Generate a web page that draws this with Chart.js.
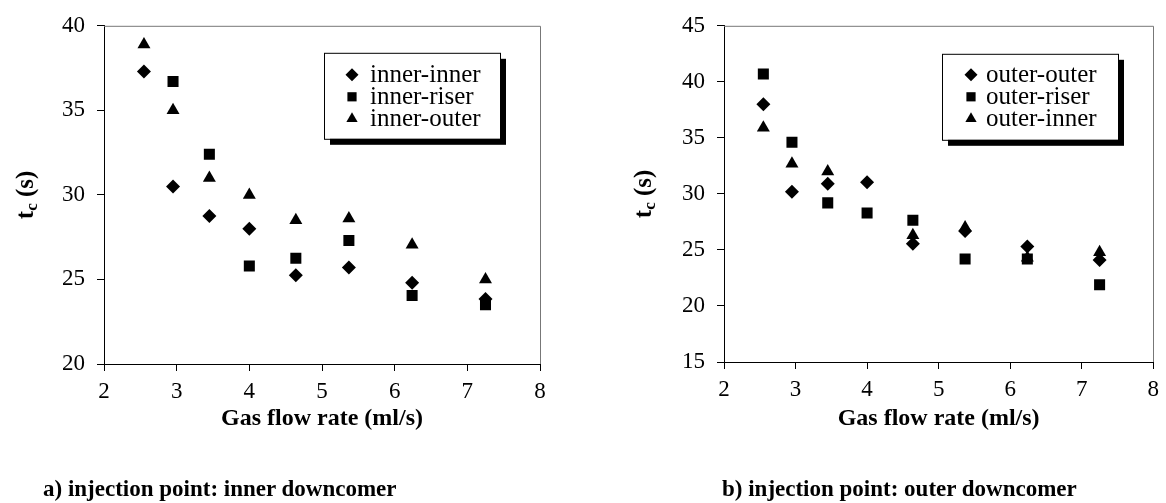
<!DOCTYPE html>
<html>
<head>
<title>Circulation time vs gas flow rate</title>
<script src="https://cdn.jsdelivr.net/npm/chart.js"></script>
<style>
    body {
        margin: 0;
        background: white;
        width: 1166px;
        height: 503px;
        overflow: hidden;
        position: relative;
        font-family: "Liberation Serif", "Times New Roman", serif;
    }
    .panel {
        position: absolute;
        top: 0;
        width: 583px;
        height: 503px;
    }
    .caption {
        position: absolute;
        top: 475px;
        font-weight: bold;
        font-size: 23px;
        line-height: 28px;
        white-space: nowrap;
    }
</style>
</head>
<body>
<div class="panel" style="left:0"><canvas id="chartA"></canvas></div>
<div class="panel" style="left:583px"><canvas id="chartB"></canvas></div>
<div class="caption" style="left:43px">a) injection point: inner downcomer</div>
<div class="caption" style="left:722px">b) injection point: outer downcomer</div>

<script>
    // gas flow rate (ml/s) – same set of runs for both injection points
    const flowRate = [2.55, 2.95, 3.45, 4.0, 4.64, 5.37, 6.24, 7.25];

    // a) injection point: inner downcomer, circulation time tc (s)
    const innerInner = [37.3, 30.5, 28.75, 28.0, 25.25, 25.7, 24.8, 23.85];
    const innerRiser = [null, 36.7, 32.4, 25.8, 26.25, 27.3, 24.05, 23.5];
    const innerOuter = [38.9, 35.0, 31.0, 30.0, 28.5, 28.6, 27.05, 25.0];

    // b) injection point: outer downcomer
    const outerOuter = [38.0, 30.2, 30.9, 31.05, 25.55, 26.7, 25.3, 24.1];
    const outerRiser = [40.7, 34.6, 29.2, 28.3, 27.65, 24.2, 24.2, 21.9];
    const outerInner = [35.9, 32.7, 32.0, null, 26.3, 27.0, 24.3, 24.8];

    const xTicks = [2, 3, 4, 5, 6, 7, 8];
    const yTicksA = [20, 25, 30, 35, 40];
    const yTicksB = [15, 20, 25, 30, 35, 40, 45];

    const FONT = '"Liberation Serif", "Times New Roman", serif';

    function points(ys) {
        return flowRate.map((x, i) => ({ x: x, y: ys[i] })).filter(p => p.y !== null);
    }

    function series(label, ys, style, r) {
        return {
            label: label,
            data: points(ys),
            pointStyle: style,
            pointRadius: r,
            pointHoverRadius: r,
            pointBackgroundColor: '#000',
            pointBorderColor: '#000',
            pointBorderWidth: 0,
            showLine: false
        };
    }

    function markDot(ctx, style, r, x, y) {
        if (Chart.helpers && Chart.helpers.drawPoint) {
            Chart.helpers.drawPoint(ctx, { pointStyle: style, radius: r, rotation: 0, borderWidth: 0 }, x, y);
        }
    }

    // frame, axis titles and the shadowed legend box
    const decor = {
        id: 'decor',
        beforeDatasetsDraw(chart, args, opts) {
            const a = chart.chartArea, ctx = chart.ctx;
            ctx.save();
            ctx.strokeStyle = '#777';
            ctx.lineWidth = 1;
            ctx.beginPath();
            ctx.moveTo(a.left, a.top + 0.5);
            ctx.lineTo(Math.round(a.right) + 0.5, a.top + 0.5);
            ctx.lineTo(Math.round(a.right) + 0.5, a.bottom);
            ctx.stroke();
            ctx.restore();
        },
        afterDraw(chart, args, opts) {
            const a = chart.chartArea, ctx = chart.ctx;
            ctx.save();
            ctx.fillStyle = '#000';

            // x title
            ctx.font = 'bold 24px ' + FONT;
            ctx.textAlign = 'center';
            ctx.textBaseline = 'middle';
            ctx.fillText('Gas flow rate (ml/s)', (a.left + a.right) / 2, opts.xTitleY);

            // y title: t with subscript c
            ctx.translate(opts.yTitleX, (a.top + a.bottom) / 2);
            ctx.rotate(-Math.PI / 2);
            const big = 'bold 25px ' + FONT, small = 'bold 17px ' + FONT;
            ctx.font = big;
            const wT = ctx.measureText('t').width;
            const wS = ctx.measureText(' (s)').width;
            ctx.font = small;
            const wC = ctx.measureText('c').width;
            let x0 = -(wT + wC + wS) / 2;
            ctx.textAlign = 'left';
            ctx.textBaseline = 'alphabetic';
            ctx.font = big;
            ctx.fillText('t', x0, 8);
            ctx.font = small;
            ctx.fillText('c', x0 + wT, 12);
            ctx.font = big;
            ctx.fillText(' (s)', x0 + wT + wC, 8);
            ctx.restore();

            // legend box with drop shadow
            const bx = a.left + opts.legend.dx, by = a.top + opts.legend.dy;
            const w = opts.legend.w, h = opts.legend.h;
            ctx.save();
            ctx.fillStyle = '#000';
            ctx.fillRect(bx + 6, by + 6, w, h);
            ctx.fillStyle = '#fff';
            ctx.fillRect(bx, by, w, h);
            ctx.strokeStyle = '#000';
            ctx.lineWidth = 1;
            ctx.strokeRect(bx + 0.5, by + 0.5, w, h);
            ctx.font = '25px ' + FONT;
            ctx.textAlign = 'left';
            ctx.textBaseline = 'middle';
            chart.data.datasets.forEach((ds, i) => {
                const ry = by + opts.legend.row0 + i * 22;
                ctx.fillStyle = '#000';
                ctx.strokeStyle = '#000';
                markDot(ctx, ds.pointStyle, 6.5, bx + opts.legend.mark, ry);
                ctx.fillStyle = '#000';
                ctx.fillText(ds.label, bx + opts.legend.text, ry + 1);
            });
            ctx.restore();
        }
    };

    function makeChart(id, datasets, yMin, yMax, yTicks, yWidth, pad, xHeight, decorOpts) {
        return new Chart(document.getElementById(id), {
            type: 'scatter',
            data: { datasets: datasets },
            plugins: [decor],
            options: {
                responsive: true,
                maintainAspectRatio: false,
                animation: false,
                layout: { padding: pad },
                plugins: {
                    legend: { display: false },
                    tooltip: { enabled: false },
                    decor: decorOpts
                },
                scales: {
                    x: {
                        type: 'linear',
                        min: xTicks[0],
                        max: xTicks[xTicks.length - 1],
                        afterBuildTicks: s => { s.ticks = xTicks.map(v => ({ value: v })); },
                        afterFit: s => { s.height = xHeight; },
                        ticks: { color: '#000', padding: 7, maxRotation: 0, font: { family: FONT, size: 23 } },
                        grid: { display: true, drawOnChartArea: false, drawTicks: true, tickLength: 7, color: '#000' },
                        border: { display: true, color: '#000', width: 1 }
                    },
                    y: {
                        type: 'linear',
                        min: yMin,
                        max: yMax,
                        afterBuildTicks: s => { s.ticks = yTicks.map(v => ({ value: v })); },
                        afterFit: s => { s.width = yWidth; },
                        ticks: { color: '#000', padding: 12, font: { family: FONT, size: 23 } },
                        grid: { display: true, drawOnChartArea: false, drawTicks: true, tickLength: 7, color: '#000' },
                        border: { display: true, color: '#000', width: 1 }
                    }
                }
            }
        });
    }

    makeChart('chartA', [
        series('inner-inner', innerInner, 'rectRot', 7),
        series('inner-riser', innerRiser, 'rect', 7.8),
        series('inner-outer', innerOuter, 'triangle', 7.5)
    ], 20, 40, yTicksA, 104, { left: 0, top: 21, right: 43, bottom: 0 }, 139,
        { xTitleY: 419, yTitleX: 25, legend: { dx: 220, dy: 27, w: 176, h: 86, mark: 28, text: 46, row0: 22 } });

    makeChart('chartB', [
        series('outer-outer', outerOuter, 'rectRot', 7),
        series('outer-riser', outerRiser, 'rect', 7.8),
        series('outer-inner', outerInner, 'triangle', 7.5)
    ], 15, 45, yTicksB, 141, { left: 0, top: 18, right: 6, bottom: 0 }, 141,
        { xTitleY: 419, yTitleX: 60, legend: { dx: 218, dy: 28, w: 176, h: 86, mark: 29, text: 44, row0: 21 } });
</script>
</body>
</html>
